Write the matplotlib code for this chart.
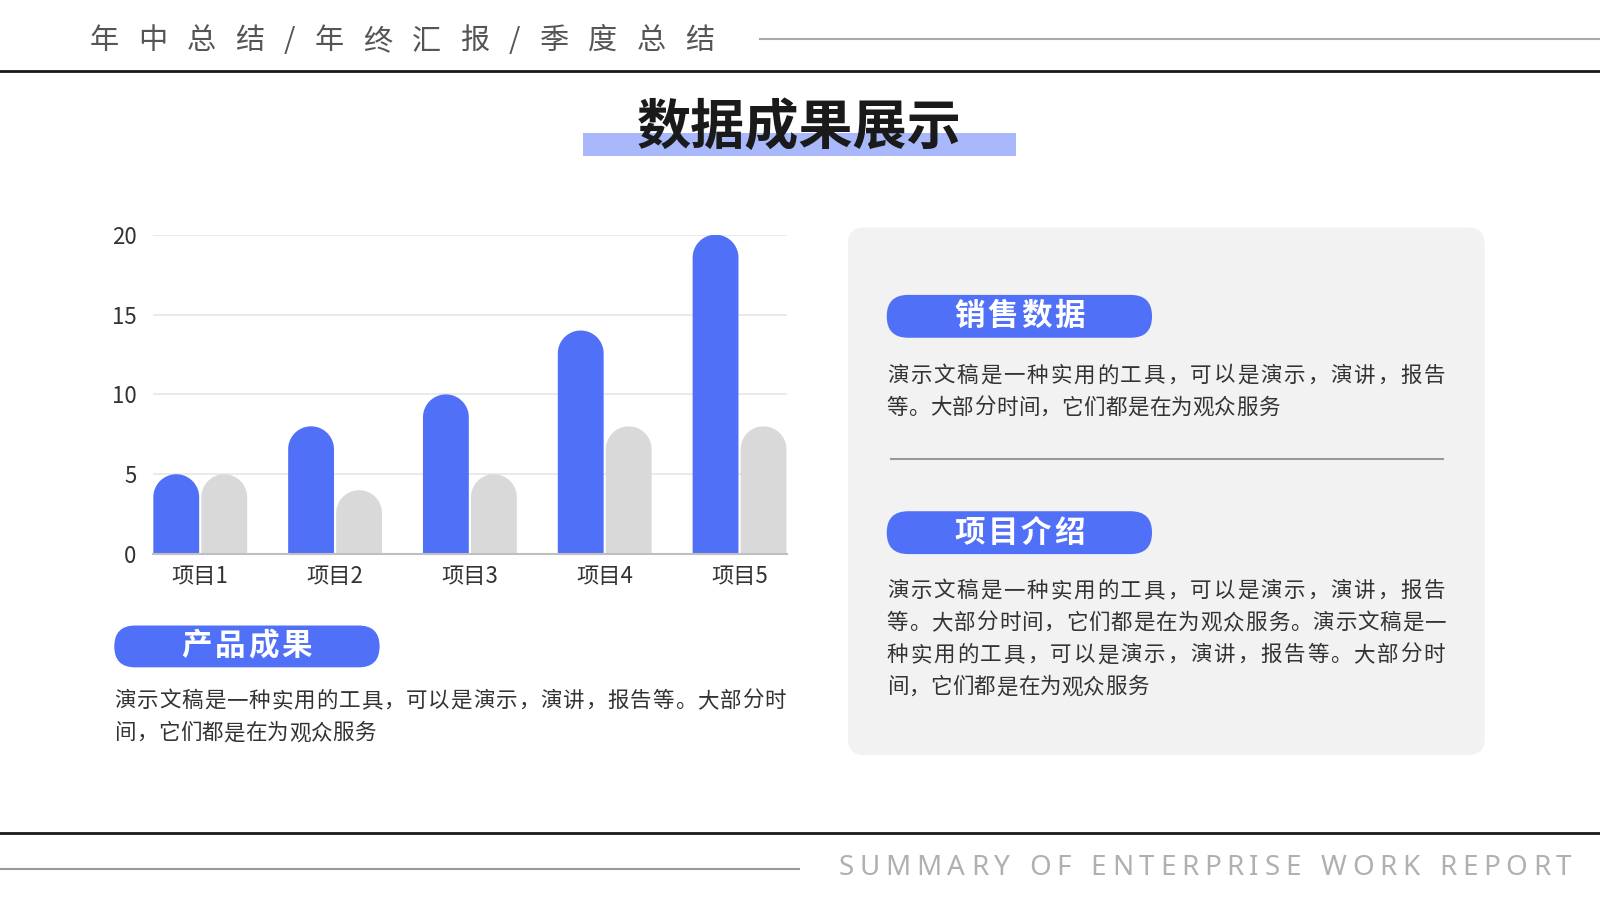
import matplotlib
matplotlib.use('Agg')
import matplotlib.pyplot as plt
import numpy as np
from matplotlib.patches import FancyBboxPatch, PathPatch, Rectangle
from matplotlib.path import Path

CN = ['Noto Sans CJK SC', 'DejaVu Sans']
plt.rcParams['font.family'] = CN

# chart data
categories = ['项目1', '项目2', '项目3', '项目4', '项目5']
blue_vals = [5, 8, 10, 14, 20]
gray_vals = [5, 4, 5, 8, 8]
y_ticks = [0, 5, 10, 15, 20]

# texts
header_text = '年中总结/年终汇报/季度总结'
title_text = '数据成果展示'
footer_text = 'SUMMARY OF ENTERPRISE WORK REPORT'
pill_left = '产品成果'
pill_sales = '销售数据'
pill_intro = '项目介绍'
left_lines = ['演示文稿是一种实用的工具，可以是演示，演讲，报告等。大部分时',
              '间，它们都是在为观众服务']
sales_lines = ['演示文稿是一种实用的工具，可以是演示，演讲，报告',
               '等。大部分时间，它们都是在为观众服务']
intro_lines = ['演示文稿是一种实用的工具，可以是演示，演讲，报告',
               '等。大部分时间，它们都是在为观众服务。演示文稿是一',
               '种实用的工具，可以是演示，演讲，报告等。大部分时',
               '间，它们都是在为观众服务']

BLUE = '#5070f8'
GRAY = '#d9d9d9'
W, H = 1568, 882

fig = plt.figure(figsize=(16, 9), dpi=100)
bg = fig.add_axes([0, 0, 1, 1])
bg.set_xlim(0, W)
bg.set_ylim(H, 0)
bg.axis('off')
renderer = fig.canvas.get_renderer()
px2u = W / 1600


def spaced(x0, y, s, size, color, x1=None, track=0.0, weight='normal', family=CN):
    items, widths = [], []
    for ch in s:
        if ch == ' ':
            items.append(None)
            widths.append(size * 0.3 * 100 / 72 * px2u)
            continue
        t = bg.text(0, y, ch, fontsize=size, color=color, weight=weight,
                    family=family, va='center', ha='left', zorder=5)
        items.append(t)
        widths.append(t.get_window_extent(renderer).width * px2u)
    if x1 is not None and len(s) > 1:
        track = (x1 - x0 - sum(widths)) / (len(s) - 1)
    x = x0
    for t, w in zip(items, widths):
        if t is not None:
            t.set_x(x)
        x += w + track


def para(x0, x1, y0, lines, size=15.5, gap=31.5, color='#333333', last_pitch=21.4):
    for i, line in enumerate(lines):
        p = (x1 - x0) / len(line) if i < len(lines) - 1 else last_pitch
        for j, ch in enumerate(line):
            bg.text(x0 + j * p, y0 + i * gap, ch, fontsize=size, color=color,
                    va='center', ha='left', zorder=5)


def pill(x, y, w, h, label, tx0, tx1):
    bg.add_patch(FancyBboxPatch((x, y), w, h, boxstyle=f'round,pad=0,rounding_size={h/2}',
                                fc=BLUE, ec='none', zorder=3))
    spaced(tx0, y + h / 2, label, 22, 'white', x1=tx1, weight='bold')


# header / footer
spaced(88, 40, header_text, 21, '#555555', x1=700)
bg.plot([745, W], [38, 38], color='#aaaaaa', lw=1.5)
bg.plot([0, W], [70, 70], color='#1a1a1a', lw=2)
bg.plot([0, W], [816, 816], color='#1a1a1a', lw=2)
bg.plot([0, 783], [852, 852], color='#999999', lw=1.5)
spaced(822, 851, footer_text, 20, '#b0b0b0', x1=1540, family=['Noto Sans', 'DejaVu Sans'])

# title
bg.add_patch(Rectangle((571, 130), 425, 23, fc='#a8b8fa', ec='none', zorder=1))
bg.text(783, 126, title_text, fontsize=39, weight='bold', color='#1a1a1a',
        ha='center', va='center', zorder=2)

# left side texts
pill(112, 613, 260, 41, pill_left, 178, 306)
para(112, 771, 687, left_lines)

# right card
bg.add_patch(FancyBboxPatch((831, 223), 624, 517, boxstyle='round,pad=0,rounding_size=16',
                            fc='#f2f2f2', ec='none', zorder=0))
pill(869, 289, 260, 42, pill_sales, 935, 1063)
para(869, 1418, 368, sales_lines)
bg.plot([873, 1414], [450, 450], color='#999999', lw=1.5)
pill(869, 501, 260, 42, pill_intro, 935, 1063)
para(869, 1418, 579, intro_lines)

# chart
left, right, top, bottom = 150, 771, 230, 543
ax = fig.add_axes([left / W, 1 - bottom / H, (right - left) / W, (bottom - top) / H])
ax.set_xlim(-0.35, 4.35)
ax.set_ylim(0, 20)
ax_w_px = (right - left) / W * 1600
ax_h_px = (bottom - top) / H * 900
ppu_x = ax_w_px / 4.7
ppu_y = ax_h_px / 20

bw = 0.34
off = 0.178


def rounded_bar(xc, h, w, color):
    r_px = w * ppu_x / 2
    ry = r_px / ppu_y
    x0, x1 = xc - w / 2, xc + w / 2
    theta = np.linspace(np.pi, 0, 40)
    ax_ = xc + (w / 2) * np.cos(theta)
    ay_ = (h - ry) + ry * np.sin(theta)
    verts = [(x0, 0)] + list(zip(ax_, ay_)) + [(x1, 0), (x0, 0)]
    codes = [Path.MOVETO] + [Path.LINETO] * (len(verts) - 2) + [Path.CLOSEPOLY]
    ax.add_patch(PathPatch(Path(verts, codes), fc=color, ec='none', zorder=3))


x = np.arange(len(categories))
for xi, b, g in zip(x, blue_vals, gray_vals):
    rounded_bar(xi - off, b, bw, BLUE)
    rounded_bar(xi + off, g, bw, GRAY)

ax.set_yticks(y_ticks)
ax.set_xticks(x)
ax.set_xticklabels(categories)
ax.yaxis.grid(True, color='#e6e6e6', lw=1.2)
ax.set_axisbelow(True)
for s in ['top', 'right', 'left']:
    ax.spines[s].set_visible(False)
ax.spines['bottom'].set_color('#bfbfbf')
ax.spines['bottom'].set_linewidth(1.5)
ax.spines['bottom'].set_zorder(4)
ax.tick_params(length=0, labelsize=16, colors='#333333')
ax.tick_params(axis='y', pad=12)
ax.tick_params(axis='x', pad=8)
ax.patch.set_alpha(0)

fig.savefig('out.png', dpi=100)
